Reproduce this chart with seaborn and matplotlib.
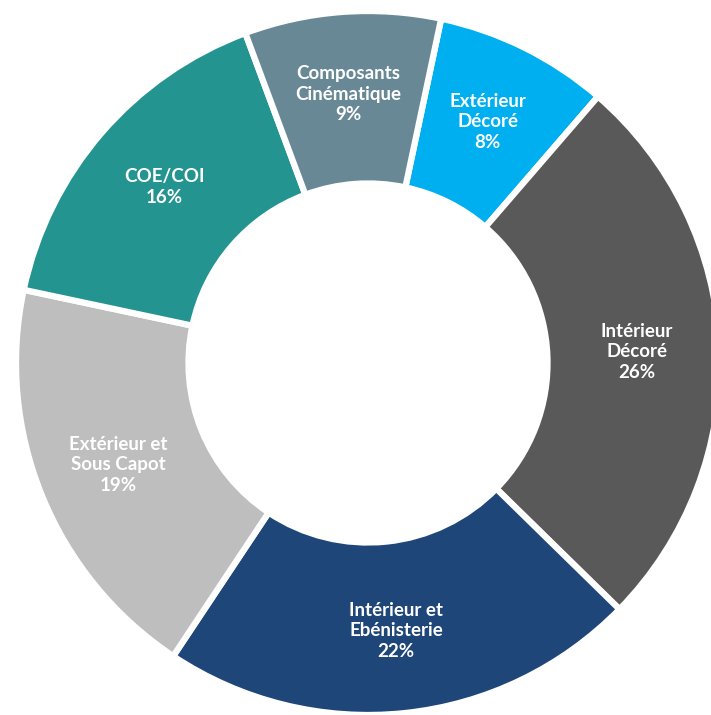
import matplotlib
matplotlib.use("Agg")
import matplotlib.pyplot as plt
import numpy as np
import seaborn as sns

# slices, clockwise from the top right
categories = ["Extérieur\nDécoré", "Intérieur\nDécoré", "Intérieur et\nEbénisterie",
              "Extérieur et\nSous Capot", "COE/COI", "Composants\nCinématique"]
shares = [8, 26, 22, 19, 16, 9]
colors = ["#00aff0", "#595959", "#1f4679", "#bebebe", "#239490", "#688896"]

sns.set_theme(style="white")
plt.rcParams['font.family'] = ['Lato', 'DejaVu Sans']

fig = plt.figure(figsize=(7.11, 7.15), dpi=100)
ax = fig.add_axes([0, 0, 1, 1])

wedges, _ = ax.pie(shares, colors=colors, startangle=78, counterclock=False,
                   radius=1.0, wedgeprops=dict(width=0.49, edgecolor="white", linewidth=4.5))

# labels centred in each ring segment
for w, name, val in zip(wedges, categories, shares):
    ang = np.deg2rad((w.theta1 + w.theta2) / 2)
    r = 0.765
    ax.text(r * np.cos(ang), r * np.sin(ang), f"{name}\n{val}%", ha='center', va='center',
            color='white', fontsize=13.5, fontweight='bold', linespacing=1.25)

# place the ring like the reference (centre ~ (368, 363) px, radius ~ 352 px)
cx, cy, R = 368, 363, 352
ax.set_aspect('auto')
ax.set_xlim(-cx / R, (711 - cx) / R)
ax.set_ylim(-(715 - cy) / R, cy / R)
ax.axis('off')

fig.savefig("out.png", dpi=100, facecolor="white")
